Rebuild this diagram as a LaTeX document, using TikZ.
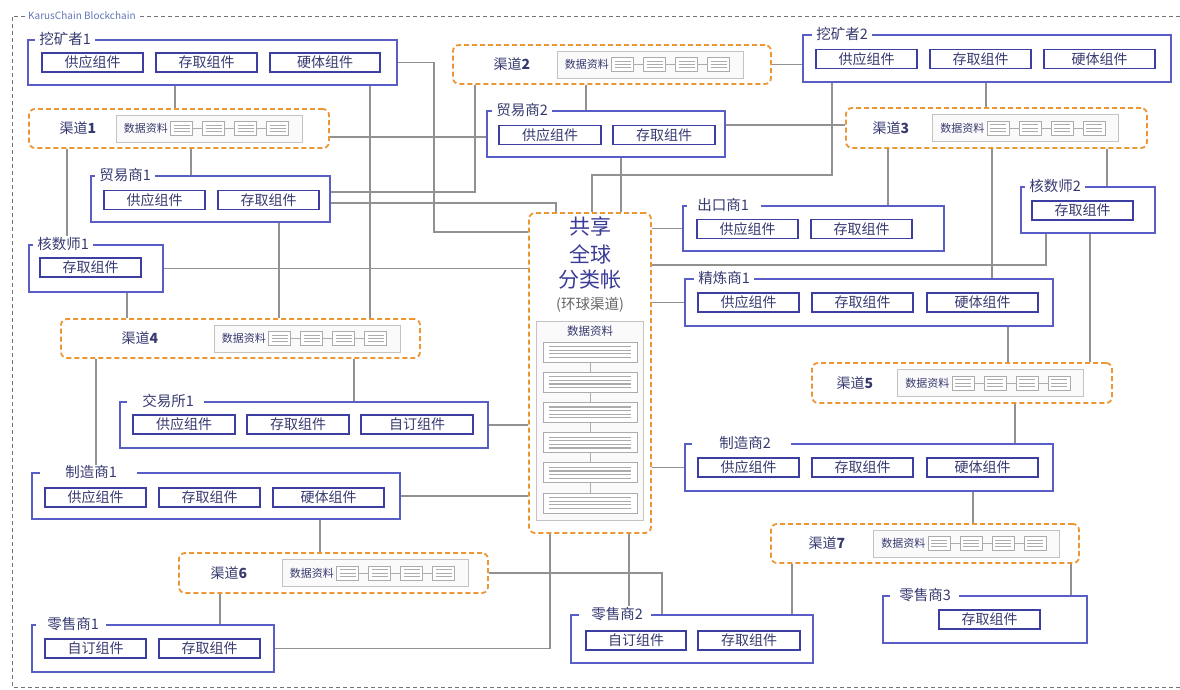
\documentclass[tikz,border=0pt]{standalone}
\usepackage{fontspec}
\setmainfont{Noto Sans CJK SC}
\usetikzlibrary{positioning,backgrounds}

\definecolor{entblue}{RGB}{88,94,198}
\definecolor{compblue}{RGB}{60,62,162}
\definecolor{txt}{RGB}{55,58,112}
\definecolor{orng}{RGB}{236,150,52}
\definecolor{lnk}{RGB}{145,145,145}
\definecolor{lgray}{RGB}{195,195,195}
\definecolor{mgray}{RGB}{172,172,172}
\definecolor{karus}{RGB}{100,118,180}
\definecolor{ledgtxt}{RGB}{58,60,150}

\begin{document}
\begin{tikzpicture}[x=1pt,y=-1pt,
  entity/.style={draw=entblue,line width=1.6pt,fill=white,inner sep=0pt},
  etitle/.style={fill=white,inner xsep=4pt,inner ysep=1pt,text=txt,font=\fontsize{14.5}{15}\selectfont},
  comp/.style={draw=compblue,line width=1.8pt,fill=white,inner sep=0pt,minimum width=#1,minimum height=19pt,text=txt,font=\fontsize{14}{14}\selectfont},
  comp/.default=101pt,
  chan/.style={draw=orng,dashed,dash pattern=on 5pt off 3pt,line width=1.8pt,rounded corners=6pt,fill=white,inner sep=0pt},
  chlab/.style={inner sep=1pt,text=txt,font=\fontsize{14}{14}\selectfont},
  databox/.style={draw=lgray,line width=0.9pt,fill=black!2,inner sep=0pt,minimum width=186pt,minimum height=27pt},
  datalab/.style={inner sep=1pt,text=txt,font=\fontsize{11}{11}\selectfont},
  miniblk/.style={draw=mgray,line width=0.9pt,fill=white,minimum width=22pt,minimum height=14pt,inner sep=0pt,
    path picture={\foreach \yy in {-3.2,0,3.2}
      \draw[mgray,line width=0.7pt] ([xshift=3pt,yshift=\yy pt]path picture bounding box.west) -- ([xshift=-3pt,yshift=\yy pt]path picture bounding box.east);}},
  ledgerblk/.style={draw=mgray,line width=0.9pt,fill=white,minimum width=94pt,minimum height=20pt,inner sep=0pt,
    path picture={\foreach \yy in {-5.4,-1.8,1.8,5.4}
      \draw[mgray,line width=1.1pt] ([xshift=6pt,yshift=\yy pt]path picture bounding box.west) -- ([xshift=-6pt,yshift=\yy pt]path picture bounding box.east);}},
  minilink/.style={draw=mgray,line width=0.9pt},
  link/.style={draw=lnk,line width=1.3pt},
  frame/.style={draw=black!55,line width=0.9pt,dash pattern=on 4pt off 3pt}]

\useasboundingbox (0,0) rectangle (1180,689);

% shared ledger
\node[chan,minimum width=122pt,minimum height=320pt] (ledger) at (590,373) {};
\node[inner sep=0pt,text=ledgtxt,font=\fontsize{21}{21}\selectfont] (ledger1) at (590,226) {共享};
\node[inner sep=0pt,text=ledgtxt,font=\fontsize{21}{21}\selectfont] (ledger2) at (590,254) {全球};
\node[inner sep=0pt,text=ledgtxt,font=\fontsize{21}{21}\selectfont] (ledger3) at (590,280) {分类帐};
\node[inner sep=0pt,text=black!60,font=\fontsize{14.5}{15}\selectfont] (ledger4) at (590,305) {(环球渠道)};
\node[databox,minimum width=107pt,minimum height=199pt] (ledgerd) at (589.5,420.5) {};
\node[datalab,font=\fontsize{11.5}{12}\selectfont] (ledgerdl) at (590,331) {数据资料};
\foreach \i in {0,...,5}
  \node[ledgerblk] (lb\i) at (590,{352+30.2*\i}) {};
\foreach \i [evaluate=\i as \j using int(\i+1)] in {0,...,4}
  \draw[minilink] (lb\i) -- (lb\j);

% channels
\node[chan,minimum width=300pt,minimum height=39pt] (ch1) at (179,128.5) {};
\node[chlab] (ch1l) at (78,128.5) {渠道\textbf{1}};
\node[databox] (ch1d) at (209,128.5) {};
\node[chan,minimum width=318pt,minimum height=39pt] (ch2) at (612,64.5) {};
\node[chlab] (ch2l) at (512,64.5) {渠道\textbf{2}};
\node[databox] (ch2d) at (650,64.5) {};
\node[chan,minimum width=301pt,minimum height=40pt] (ch3) at (996.5,128) {};
\node[chlab] (ch3l) at (891,128) {渠道\textbf{3}};
\node[databox] (ch3d) at (1025.5,128) {};
\node[chan,minimum width=359pt,minimum height=39pt] (ch4) at (240.5,338.5) {};
\node[chlab] (ch4l) at (140,338.5) {渠道\textbf{4}};
\node[databox] (ch4d) at (307,338.5) {};
\node[chan,minimum width=300pt,minimum height=40pt] (ch5) at (962,383) {};
\node[chlab] (ch5l) at (855,383) {渠道\textbf{5}};
\node[databox] (ch5d) at (990.5,383) {};
\node[chan,minimum width=309pt,minimum height=40pt] (ch6) at (333.5,573) {};
\node[chlab] (ch6l) at (229,573) {渠道\textbf{6}};
\node[databox] (ch6d) at (375,573) {};
\node[chan,minimum width=308pt,minimum height=39pt] (ch7) at (925,543.5) {};
\node[chlab] (ch7l) at (827,543.5) {渠道\textbf{7}};
\node[databox] (ch7d) at (966.5,543.5) {};
\foreach \d in {ch1d,ch2d,ch3d,ch4d,ch5d,ch6d,ch7d}{
  \node[datalab,right=7pt of \d.west] (\d l) {数据资料};
  \foreach \i in {0,...,3}
    \node[miniblk] (\d\i) at ([xshift=66pt+\i*32pt]\d.west) {};
  \draw[minilink] (\d0) -- (\d1) -- (\d2) -- (\d3);
}

% members
\node[entity,minimum width=369pt,minimum height=45pt] (miner1) at (212.5,62.5) {};
\node[etitle,right=8pt of miner1.north west] (miner1t) {挖矿者1};
\node[comp] (miner1s) at (92.5,62.5) {供应组件};
\node[comp] (miner1a) at (206.5,62.5) {存取组件};
\node[comp=110pt] (miner1h) at (325,62.5) {硬体组件};

\node[entity,minimum width=239pt,minimum height=46pt] (trader1) at (210.5,199) {};
\node[etitle,right=5pt of trader1.north west] (trader1t) {贸易商1};
\node[comp] (trader1s) at (154.5,200) {供应组件};
\node[comp] (trader1a) at (268.5,200) {存取组件};

\node[entity,minimum width=238pt,minimum height=46pt] (trader2) at (606,134) {};
\node[etitle,right=6pt of trader2.north west] (trader2t) {贸易商2};
\node[comp=102pt] (trader2s) at (550,135) {供应组件};
\node[comp=102pt] (trader2a) at (664,135) {存取组件};

\node[entity,minimum width=368pt,minimum height=47pt] (miner2) at (987,58.5) {};
\node[etitle,right=10pt of miner2.north west] (miner2t) {挖矿者2};
\node[comp] (miner2s) at (866.5,59) {供应组件};
\node[comp] (miner2a) at (980.5,59) {存取组件};
\node[comp=111pt] (miner2h) at (1099.5,59) {硬体组件};

\node[entity,minimum width=134pt,minimum height=46pt] (auditor2) at (1088,210) {};
\node[etitle,right=5pt of auditor2.north west] (auditor2t) {核数师2};
\node[comp] (auditor2a) at (1082.5,210.5) {存取组件};

\node[entity,minimum width=261pt,minimum height=45pt] (exporter1) at (813.5,228.5) {};
\node[etitle,right=5pt of exporter1.north west] (exporter1t) {\hspace*{6pt}出口商1\hspace*{8pt}};
\node[comp] (exporter1s) at (747.5,229) {供应组件};
\node[comp] (exporter1a) at (861.5,229) {存取组件};

\node[entity,minimum width=134pt,minimum height=47pt] (auditor1) at (96,268.5) {};
\node[etitle,right=5pt of auditor1.north west] (auditor1t) {核数师1};
\node[comp] (auditor1a) at (90.5,267.5) {存取组件};

\node[entity,minimum width=368pt,minimum height=46pt] (exchange1) at (304,425) {};
\node[etitle,right=8pt of exchange1.north west] (exchange1t) {\hspace*{11pt}交易所1\hspace*{6pt}};
\node[comp=102pt] (exchange1s) at (184,424.5) {供应组件};
\node[comp=102pt] (exchange1a) at (298,424.5) {存取组件};
\node[comp=112pt] (exchange1z) at (417,424.5) {自订组件};

\node[entity,minimum width=368pt,minimum height=47pt] (refiner1) at (869,302.5) {};
\node[etitle,right=10pt of refiner1.north west] (refiner1t) {精炼商1};
\node[comp] (refiner1s) at (748.5,302.5) {供应组件};
\node[comp] (refiner1a) at (862.5,302.5) {存取组件};
\node[comp=111pt] (refiner1h) at (982.5,302.5) {硬体组件};

\node[entity,minimum width=368pt,minimum height=47pt] (manuf2) at (869,467.5) {};
\node[etitle,right=8pt of manuf2.north west] (manuf2t) {\hspace*{23pt}制造商2\hspace*{16pt}};
\node[comp] (manuf2s) at (748.5,467.5) {供应组件};
\node[comp] (manuf2a) at (862.5,467.5) {存取组件};
\node[comp=111pt] (manuf2h) at (982.5,467.5) {硬体组件};

\node[entity,minimum width=368pt,minimum height=46pt] (manuf1) at (216,496) {};
\node[etitle,right=9pt of manuf1.north west] (manuf1t) {\hspace*{21pt}制造商1\hspace*{16pt}};
\node[comp] (manuf1s) at (95.5,497.5) {供应组件};
\node[comp] (manuf1a) at (209.5,497.5) {存取组件};
\node[comp=111pt] (manuf1h) at (328.5,497.5) {硬体组件};

\node[entity,minimum width=242pt,minimum height=47pt] (retail1) at (153,648.5) {};
\node[etitle,right=5pt of retail1.north west] (retail1t) {\hspace*{7pt}零售商1\hspace*{3pt}};
\node[comp] (retail1z) at (95.5,648.5) {自订组件};
\node[comp] (retail1a) at (209.5,648.5) {存取组件};

\node[entity,minimum width=242pt,minimum height=48pt] (retail2) at (692,639) {};
\node[etitle,right=9pt of retail2.north west] (retail2t) {\hspace*{8pt}零售商2\hspace*{4pt}};
\node[comp=100pt] (retail2z) at (636,640.5) {自订组件};
\node[comp=102pt] (retail2a) at (749,640.5) {存取组件};

\node[entity,minimum width=204pt,minimum height=47pt] (retail3) at (985,619.5) {};
\node[etitle,right=8pt of retail3.north west] (retail3t) {\hspace*{5pt}零售商3\hspace*{4pt}};
\node[comp] (retail3a) at (989.5,619.5) {存取组件};

\node[fill=white,inner xsep=3pt,inner ysep=1pt,anchor=west,text=karus,font=\fontsize{10}{10}\selectfont] (frametitle) at (25,16) {KarusChain Blockchain};

\begin{scope}[on background layer]
\fill[white] (0,0) rectangle (1180,689);
\draw[frame] (1180,16) -- (12,16) -- (12,687) -- (1180,687);

% left side
\draw[link] (175,0 |- miner1.south) -- (175,0 |- ch1.north);
\draw[link] (370,0 |- miner1.south) -- (370,0 |- ch4.north);
\draw[link] (miner1.east) -| (434,232) -- (0,232 -| ledger.west);
\draw[link] (0,137 -| ch1.east) -- (0,137 -| trader2.west);
\draw[link] (67,0 |- ch1.south) -- (67,0 |- auditor1.north);
\draw[link] (191,0 |- ch1.south) -- (191,0 |- trader1.north);
\draw[link] (0,192 -| trader1.east) -| (475,0 |- ch2.south);
\draw[link] (0,203 -| trader1.east) -| (556,0 |- ledger.north);
\draw[link] (279,0 |- trader1.south) -- (279,0 |- ch4.north);
\draw[link] (auditor1.east) -- (auditor1.east -| ledger.west);
\draw[link] (127,0 |- auditor1.south) -- (127,0 |- ch4.north);
\draw[link] (96,0 |- ch4.south) -- (96,0 |- manuf1.north);
\draw[link] (354,0 |- ch4.south) -- (354,0 |- exchange1.north);
\draw[link] (exchange1.east) -- (exchange1.east -| ledger.west);
\draw[link] (manuf1.east) -- (manuf1.east -| ledger.west);
\draw[link] (320,0 |- manuf1.south) -- (320,0 |- ch6.north);
\draw[link] (220,0 |- ch6.south) -- (220,0 |- retail1.north);
\draw[link] (retail1.east) -| (550,0 |- ledger.south);
\draw[link] (ch6.east) -| (662,0 |- retail2.north);
\draw[link] (629,0 |- ledger.south) -- (629,0 |- retail2.north);

% right side
\draw[link] (586,0 |- ch2.south) -- (586,0 |- trader2.north);
\draw[link] (ch2.east) -- (ch2.east -| miner2.west);
\draw[link] (0,125 -| trader2.east) -- (0,125 -| ch3.west);
\draw[link] (621,0 |- trader2.south) -- (621,0 |- ledger.north);
\draw[link] (832,0 |- miner2.south) |- (592,175) -- (592,0 |- ledger.north);
\draw[link] (986,0 |- miner2.south) -- (986,0 |- ch3.north);
\draw[link] (888,0 |- ch3.south) -- (888,0 |- exporter1.north);
\draw[link] (992,0 |- ch3.south) -- (992,0 |- refiner1.north);
\draw[link] (1107,0 |- ch3.south) -- (1107,0 |- auditor2.north);
\draw[link] (exporter1.west) -- (exporter1.west -| ledger.east);
\draw[link] (1046,0 |- auditor2.south) |- (0,265 -| ledger.east);
\draw[link] (1090,0 |- auditor2.south) -- (1090,0 |- ch5.north);
\draw[link] (refiner1.west) -- (refiner1.west -| ledger.east);
\draw[link] (1008,0 |- refiner1.south) -- (1008,0 |- ch5.north);
\draw[link] (1015,0 |- ch5.south) -- (1015,0 |- manuf2.north);
\draw[link] (manuf2.west) -- (manuf2.west -| ledger.east);
\draw[link] (973,0 |- manuf2.south) -- (973,0 |- ch7.north);
\draw[link] (792,0 |- ch7.south) -- (792,0 |- retail2.north);
\draw[link] (1071,0 |- ch7.south) -- (1071,0 |- retail3.north);
\end{scope}

\end{tikzpicture}
\end{document}
